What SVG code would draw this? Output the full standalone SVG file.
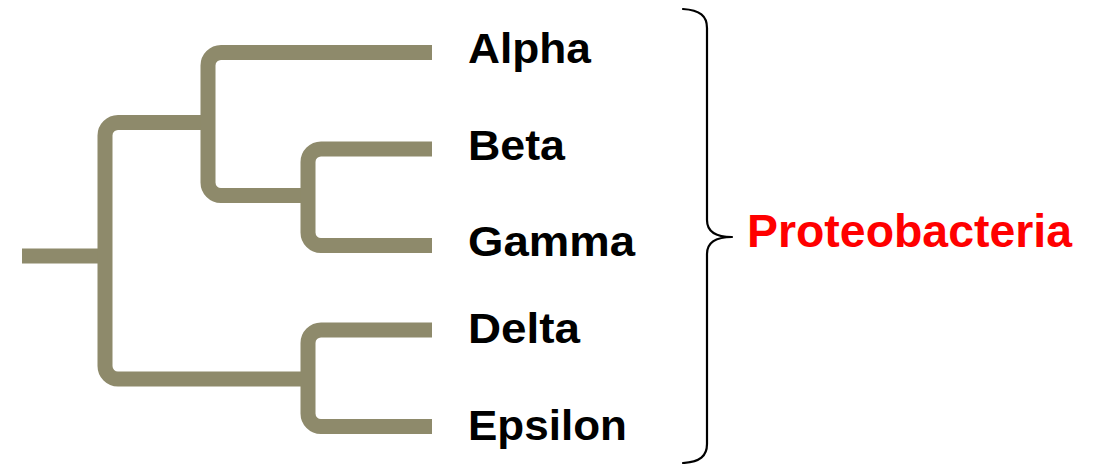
<svg xmlns="http://www.w3.org/2000/svg" width="1102" height="464" viewBox="0 0 1102 464">
  <style>
    .branch { fill: none; stroke: #8e8a6b; stroke-width: 15; stroke-linecap: butt; stroke-linejoin: round; }
    .taxon { font-family: "Liberation Sans", Arial, sans-serif; font-weight: bold; font-size: 43px; fill: #000000; }
    .group { font-family: "Liberation Sans", Arial, sans-serif; font-weight: bold; font-size: 47px; fill: #ff0000; }
    .brace { fill: none; stroke: #000000; stroke-width: 2.2; stroke-linecap: round; stroke-linejoin: round; }
  </style>
  <rect width="1102" height="464" fill="#ffffff"/>

  <!-- tree branches -->
  <g id="connectors">
    <path class="branch" d="M22,256 H106"/>
    <path class="branch" d="M208,122.5 H118 A13,13 0 0 0 105,135.5 V366 A13,13 0 0 0 118,379 H308"/>
    <path class="branch" d="M432,52.5 H221 A13,13 0 0 0 208,65.5 V182.5 A13,13 0 0 0 221,195.5 H308"/>
    <path class="branch" d="M432,149 H321 A13,13 0 0 0 308,162 V232.5 A13,13 0 0 0 321,245.5 H432"/>
    <path class="branch" d="M432,330 H321 A13,13 0 0 0 308,343 V413.5 A13,13 0 0 0 321,426.5 H432"/>
  </g>

  <!-- leaf labels -->
  <g id="alpha"><text class="taxon" x="468" y="63" textLength="123" lengthAdjust="spacingAndGlyphs">Alpha</text></g>
  <g id="beta"><text class="taxon" x="468" y="160" textLength="97" lengthAdjust="spacingAndGlyphs">Beta</text></g>
  <g id="gamma"><text class="taxon" x="468" y="256" textLength="167" lengthAdjust="spacingAndGlyphs">Gamma</text></g>
  <g id="delta"><text class="taxon" x="468" y="343" textLength="112" lengthAdjust="spacingAndGlyphs">Delta</text></g>
  <g id="epsilon"><text class="taxon" x="468" y="440" textLength="159" lengthAdjust="spacingAndGlyphs">Epsilon</text></g>

  <!-- grouping brace and clade name -->
  <g id="proteobacteria">
    <path class="brace" d="M683,9 C700,10 707,16 707,28 V220 C707,232 716,237 732,237 C716,237 707,242 707,254 V444 C707,456 700,462 683,463"/>
    <text class="group" x="747" y="247" textLength="325" lengthAdjust="spacingAndGlyphs">Proteobacteria</text>
  </g>
</svg>
